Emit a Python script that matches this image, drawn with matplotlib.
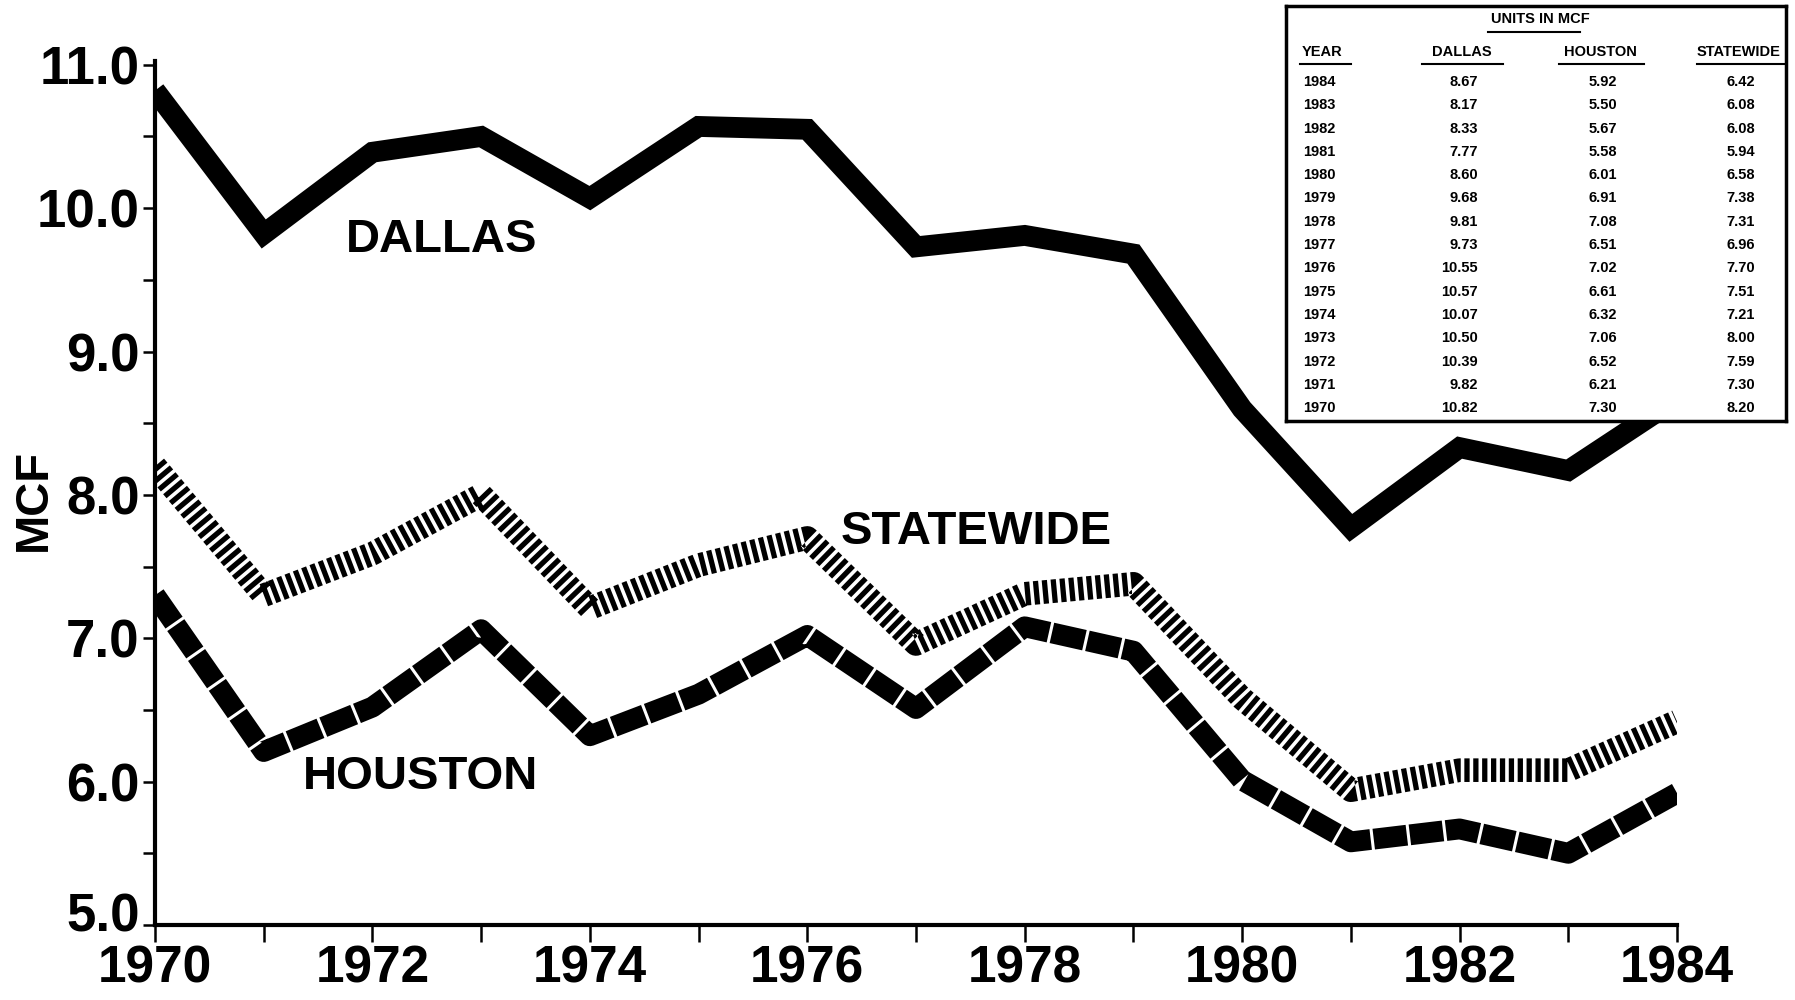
import matplotlib
matplotlib.use("Agg")
from matplotlib import pyplot as plt
from matplotlib.transforms import ScaledTranslation

years = list(range(1970, 1985))
dallas = [10.82, 9.82, 10.39, 10.50, 10.07, 10.57, 10.55, 9.73, 9.81, 9.68, 8.60, 7.77, 8.33, 8.17, 8.67]
houston = [7.30, 6.21, 6.52, 7.06, 6.32, 6.61, 7.02, 6.51, 7.08, 6.91, 6.01, 5.58, 5.67, 5.50, 5.92]
statewide = [8.20, 7.30, 7.59, 8.00, 7.21, 7.51, 7.70, 6.96, 7.31, 7.38, 6.58, 5.94, 6.08, 6.08, 6.42]
y_ticks = [5.0, 6.0, 7.0, 8.0, 9.0, 10.0, 11.0]
y_minor = [5.5, 6.5, 7.5, 8.5, 9.5, 10.5]

plt.rcParams['font.family'] = ['Liberation Sans', 'DejaVu Sans']
plt.rcParams['font.weight'] = 'bold'
plt.rcParams['lines.scale_dashes'] = False

fig = plt.figure(figsize=(17.95, 10), dpi=100)
ax = fig.add_axes([155/1795, 0.075, 1522/1795, 0.8645])

# lines
ax.plot(years, dallas, color='black', lw=15, solid_joinstyle='miter', solid_capstyle='butt')
ax.plot(years, statewide, color='black', lw=17, dashes=(3.8, 2.6), dash_capstyle='butt')
ax.plot(years, houston, color='black', lw=15, dashes=(24, 2.2), dash_capstyle='butt')

ax.set_xlim(1970, 1984)
ax.set_ylim(5, 11.03)

ax.set_xticks(years)
ax.set_xticklabels([str(y) if y % 2 == 0 else '' for y in years])
ax.set_yticks(y_ticks)
ax.set_yticklabels(["%.1f" % v for v in y_ticks])
ax.set_yticks(y_minor, minor=True)
ax.tick_params(axis='y', which='both', direction='out', length=9, width=1.8, pad=2, labelsize=38)
ax.tick_params(axis='x', direction='out', length=12, width=1.8, pad=2, labelsize=37)

# lift the bottom "5.0" a bit so it clears the 1970 label
lbl = ax.get_yticklabels()[0]
lbl.set_transform(lbl.get_transform() + ScaledTranslation(0, 9/72, fig.dpi_scale_trans))

for s in ['top', 'right']:
    ax.spines[s].set_visible(False)
for s in ['left', 'bottom']:
    ax.spines[s].set_linewidth(3)

fig.text(0.019, 0.5, "MCF", rotation=90, ha='center', va='center', fontsize=34)

ax.text(1971.76, 9.78, "DALLAS", fontsize=34, ha='left', va='center')
ax.text(1976.31, 7.74, "STATEWIDE", fontsize=34, ha='left', va='center')
ax.text(1971.36, 6.03, "HOUSTON", fontsize=34, ha='left', va='center')

# data table inset
tab = fig.add_axes([1286/1795, 1 - 421/1000, 500/1795, 415/1000])
tab.set_facecolor('white')
tab.set_xlim(0, 500)
tab.set_ylim(415, 0)
tab.set_xticks([])
tab.set_yticks([])
for s in tab.spines.values():
    s.set_linewidth(2.5)

tab.text(254, 13, "UNITS IN MCF", fontsize=10.5, ha='center', va='center')
tab.plot([202, 294], [26, 26], color='black', lw=1.5)
headers = ["YEAR", "DALLAS", "HOUSTON", "STATEWIDE"]
hx = [36, 176, 314, 453]
hline = [(14, 65), (136, 217), (273, 358), (411, 498)]
for h, x, (a, b) in zip(headers, hx, hline):
    tab.text(x, 46, h, fontsize=10.5, ha='center', va='center')
    tab.plot([a, b], [58, 58], color='black', lw=1.5)

for i in range(len(years)):
    k = len(years) - 1 - i
    y = 76 + i * 23.3
    tab.text(17, y, str(years[k]), fontsize=10.5, ha='left', va='center')
    tab.text(192, y, "%.2f" % dallas[k], fontsize=10.5, ha='right', va='center')
    tab.text(331, y, "%.2f" % houston[k], fontsize=10.5, ha='right', va='center')
    tab.text(469, y, "%.2f" % statewide[k], fontsize=10.5, ha='right', va='center')

plt.savefig("out.png", dpi=100)
